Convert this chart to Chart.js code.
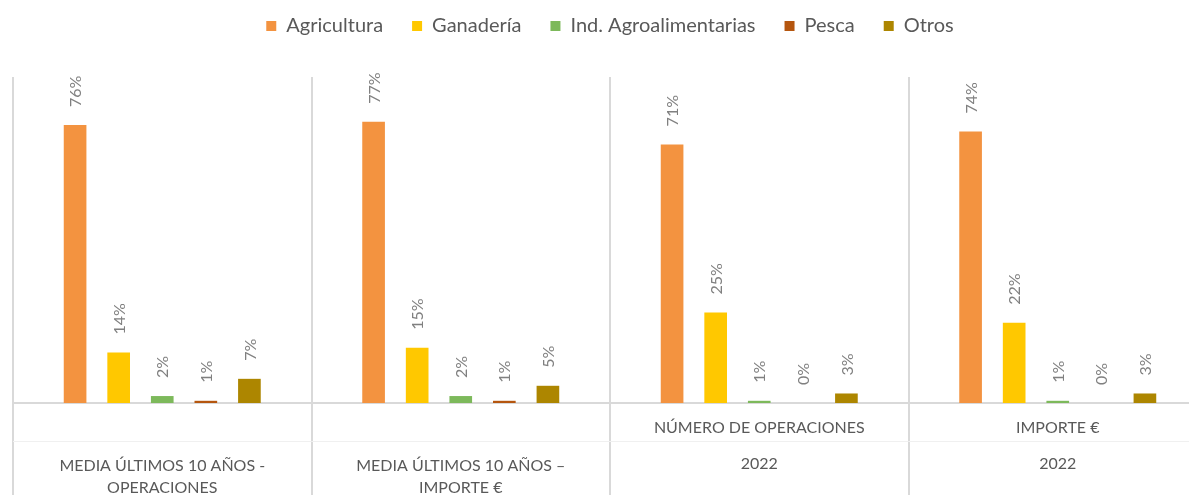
<!DOCTYPE html>
<html>
<head>
<meta charset="utf-8">
<script src="https://cdn.jsdelivr.net/npm/chart.js@4.4.1/dist/chart.umd.min.js"></script>
<style>
    html, body { margin: 0; padding: 0; background: #ffffff; overflow: hidden; }
    #wrap { width: 1208px; height: 495px; }
</style>
</head>
<body>
<div id="wrap"><canvas id="chart" width="1208" height="495"></canvas></div>
<script>
// Categories: inner label and outer label of the two-level axis
const categories = ['g1', 'g2', 'g3', 'g4'];
const innerLabels = ['', '', 'NÚMERO DE OPERACIONES', 'IMPORTE €'];
const outerLabels = [
    ['MEDIA ÚLTIMOS 10 AÑOS -', 'OPERACIONES'],
    ['MEDIA ÚLTIMOS 10 AÑOS –', 'IMPORTE €'],
    ['2022'],
    ['2022']
];

// Series values (%)
const agricultura = [75.9, 76.8, 70.6, 74.1];
const ganaderia = [13.8, 15.1, 24.7, 21.9];
const indAgro = [1.9, 1.9, 0.6, 0.6];
const pesca = [0.6, 0.6, 0, 0];
const otros = [6.6, 4.7, 2.6, 2.6];

const seriesNames = ['Agricultura', 'Ganadería', 'Ind. Agroalimentarias', 'Pesca', 'Otros'];
const seriesColors = ['#F39340', '#FFC800', '#7DB95B', '#B5560F', '#AD8600'];

const FONT = 'Lato, "Open Sans", sans-serif';

// Add some space under the legend
const legendMargin = {
    id: 'legendMargin',
    beforeInit(chart) {
        const origFit = chart.legend.fit;
        chart.legend.fit = function fit() {
            origFit.bind(chart.legend)();
            this.height += 31;
        };
    }
};

// Rotated value labels above the bars
const valueLabels = {
    id: 'valueLabels',
    afterDatasetsDraw(chart) {
        const ctx = chart.ctx;
        ctx.save();
        ctx.font = '16px ' + FONT;
        ctx.fillStyle = '#808080';
        ctx.textAlign = 'left';
        ctx.textBaseline = 'middle';
        chart.data.datasets.forEach((ds, di) => {
            const meta = chart.getDatasetMeta(di);
            meta.data.forEach((bar, i) => {
                ctx.save();
                ctx.translate(bar.x + 1, bar.y - 18);
                ctx.rotate(-Math.PI / 2);
                ctx.fillText(Math.round(ds.data[i]) + '%', 0, 0);
                ctx.restore();
            });
        });
        ctx.restore();
    }
};

// Two-level category labels under the axis
const groupLabels = {
    id: 'groupLabels',
    afterDraw(chart) {
        const ctx = chart.ctx;
        const xs = chart.scales.x;
        const area = chart.chartArea;
        ctx.save();
        ctx.strokeStyle = '#f0f0f0';
        ctx.lineWidth = 1;
        ctx.beginPath();
        ctx.moveTo(area.left, 441.5);
        ctx.lineTo(area.right, 441.5);
        ctx.stroke();

        ctx.font = '16px ' + FONT;
        ctx.fillStyle = '#595959';
        ctx.textAlign = 'center';
        ctx.textBaseline = 'middle';
        categories.forEach((c, i) => {
            const x = xs.getPixelForValue(i);
            if (innerLabels[i]) ctx.fillText(innerLabels[i], x, 428);
            const lines = outerLabels[i];
            if (lines.length === 1) {
                ctx.fillText(lines[0], x, 464);
            } else {
                lines.forEach((l, k) => ctx.fillText(l, x, 466 + k * 22));
            }
        });
        ctx.restore();
    }
};

const datasets = [agricultura, ganaderia, indAgro, pesca, otros].map((vals, i) => ({
    label: seriesNames[i],
    data: vals,
    backgroundColor: seriesColors[i],
    borderWidth: 0,
    categoryPercentage: 0.73,
    barPercentage: 0.52
}));

new Chart(document.getElementById('chart').getContext('2d'), {
    type: 'bar',
    data: { labels: categories, datasets: datasets },
    options: {
        responsive: false,
        animation: false,
        layout: { padding: { top: -13, left: 13, right: 1, bottom: 0 } },
        plugins: {
            legend: {
                position: 'top',
                labels: {
                    boxWidth: 10,
                    boxHeight: 10,
                    padding: 29,
                    color: '#595959',
                    font: { family: FONT, size: 20 }
                }
            },
            tooltip: { enabled: false }
        },
        scales: {
            x: {
                grid: {
                    offset: true,
                    color: '#d9d9d9',
                    lineWidth: 2,
                    tickLength: 92,
                    tickColor: '#d9d9d9'
                },
                border: { color: '#d9d9d9', width: 2 },
                ticks: { display: false }
            },
            y: {
                display: false,
                min: 0,
                max: 89
            }
        }
    },
    plugins: [legendMargin, valueLabels, groupLabels]
});
</script>
</body>
</html>
